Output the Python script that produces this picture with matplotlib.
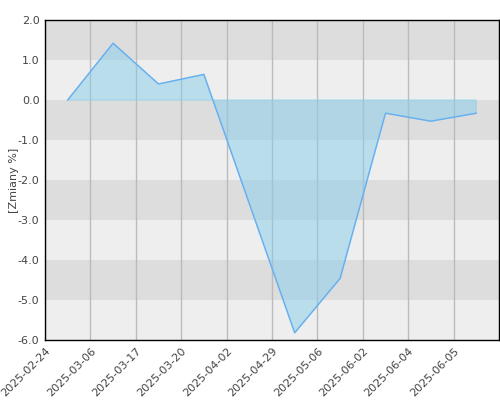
import numpy as np
import matplotlib
matplotlib.use("Agg")
import matplotlib.pyplot as plt

# tick labels (category positions 0..9)
dates = ['2025-02-24', '2025-03-06', '2025-03-17', '2025-03-20', '2025-04-02',
         '2025-04-29', '2025-05-06', '2025-06-02', '2025-06-04', '2025-06-05']
# data points sit between the ticks
xpos = [0.5, 1.5, 2.5, 3.5, 5.5, 6.5, 7.5, 8.5, 9.5]
vals = [0.0, 1.42, 0.40, 0.64, -5.82, -4.46, -0.33, -0.53, -0.33]

fig = plt.figure(figsize=(5, 4), dpi=100)
ax = fig.add_axes([0.09, 0.15, 0.908, 0.80])

# alternating background bands
for lo in range(-6, 2):
    c = '#dddddd' if lo % 2 != 0 else '#eeeeee'
    ax.axhspan(lo, lo + 1, color=c, lw=0, zorder=0)

for i in range(len(dates)):
    ax.axvline(i, color='#bbbbbb', lw=1, zorder=1)

px = [xpos[0]] + xpos + [xpos[-1]]
py = [0] + vals + [0]
ax.fill(px, py, facecolor='#87ceeb', alpha=0.5, edgecolor='#87ceeb', lw=1, zorder=2)
ax.plot(xpos, vals, color='#66aff0', lw=1, zorder=3)

ax.set_xlim(0, 10)
ax.set_ylim(-6, 2)
ax.set_yticks(np.arange(-6, 2.1, 1))
ax.set_yticklabels(['%.1f' % v for v in np.arange(-6, 2.1, 1)])
ax.set_xticks(range(len(dates)))
ax.set_xticklabels(dates, rotation=45, ha='right', rotation_mode='anchor')
ax.tick_params(length=0, labelsize=8, labelcolor='#444444', pad=4)
ax.set_ylabel('[Zmiany %]', fontsize=8, color='#444444')
ax.yaxis.set_label_coords(-0.057, 0.5)
for s in ax.spines.values():
    s.set_linewidth(1)
    s.set_zorder(5)

fig.savefig('out.png')
